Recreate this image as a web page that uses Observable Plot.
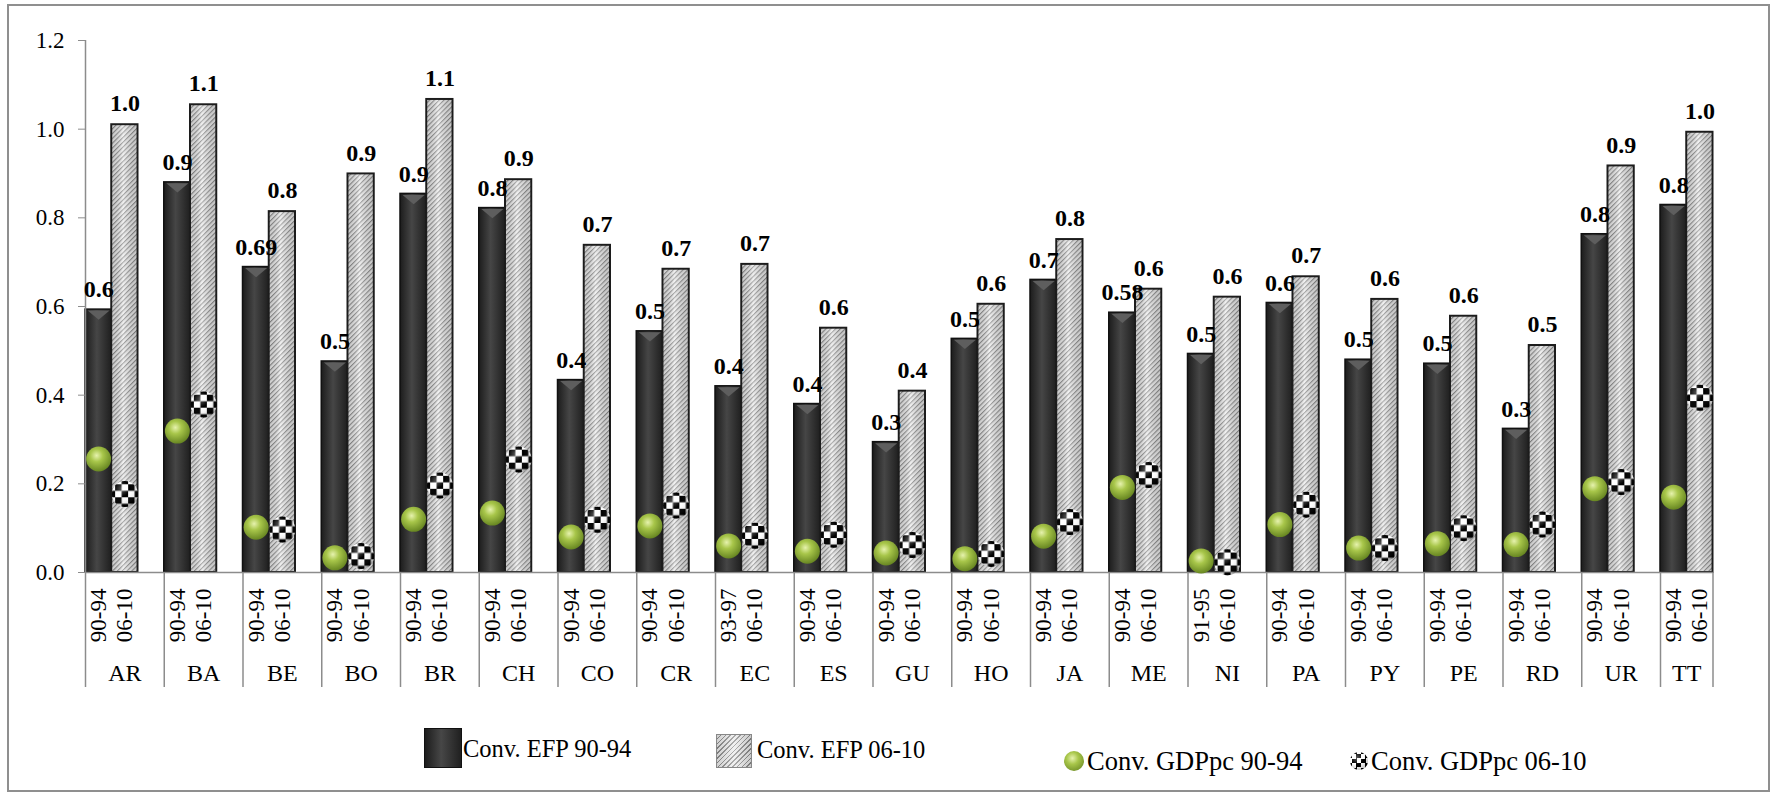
<!DOCTYPE html>
<html><head><meta charset="utf-8">
<script src="https://cdn.jsdelivr.net/npm/d3@7"></script>
<script src="https://cdn.jsdelivr.net/npm/@observablehq/plot@0.6"></script>
<style>
html,body{margin:0;padding:0;background:#fff;}
#wrap{position:relative;width:1773px;height:796px;overflow:hidden;font-family:"Liberation Serif","Times New Roman",serif;}
#chart{position:absolute;left:0;top:0;}
#border{position:absolute;left:7px;top:4px;width:1763px;height:788px;box-sizing:border-box;border:2px solid #8f8f8f;pointer-events:none;}
.lg{position:absolute;color:#000;white-space:nowrap;font-family:"Liberation Serif","Times New Roman",serif;}
.sw{position:absolute;box-sizing:border-box;}
</style></head><body>
<div id="wrap"><div id="chart"></div><div id="legend"></div><div id="border"></div></div>
<script>
// ---------- data ----------
const countries = ["AR","BA","BE","BO","BR","CH","CO","CR","EC","ES","GU","HO","JA","ME","NI","PA","PY","PE","RD","UR","TT"];
const periodsEarly = ["90-94","90-94","90-94","90-94","90-94","90-94","90-94","90-94","93-97","90-94","90-94","90-94","90-94","90-94","91-95","90-94","90-94","90-94","90-94","90-94","90-94"];
const periodsLate = ["06-10","06-10","06-10","06-10","06-10","06-10","06-10","06-10","06-10","06-10","06-10","06-10","06-10","06-10","06-10","06-10","06-10","06-10","06-10","06-10","06-10"];
const efp9094 = [0.593,0.88,0.689,0.476,0.854,0.822,0.434,0.544,0.42,0.38,0.294,0.527,0.66,0.586,0.493,0.608,0.48,0.471,0.324,0.763,0.829];
const efp0610 = [1.01,1.055,0.814,0.899,1.067,0.886,0.738,0.684,0.695,0.551,0.409,0.605,0.751,0.639,0.621,0.667,0.616,0.578,0.512,0.917,0.993];
const labels9094 = ["0.6","0.9","0.69","0.5","0.9","0.8","0.4","0.5","0.4","0.4","0.3","0.5","0.7","0.58","0.5","0.6","0.5","0.5","0.3","0.8","0.8"];
const labels0610 = ["1.0","1.1","0.8","0.9","1.1","0.9","0.7","0.7","0.7","0.6","0.4","0.6","0.8","0.6","0.6","0.7","0.6","0.6","0.5","0.9","1.0"];
const gdp9094 = [0.256,0.319,0.102,0.033,0.12,0.134,0.08,0.105,0.06,0.048,0.044,0.031,0.082,0.192,0.026,0.108,0.055,0.065,0.063,0.189,0.17];
const gdp0610 = [0.177,0.379,0.097,0.037,0.196,0.255,0.119,0.151,0.083,0.085,0.062,0.042,0.114,0.22,0.023,0.153,0.055,0.1,0.108,0.204,0.394];
const yTicks = [0,0.2,0.4,0.6,0.8,1.0,1.2];
const legendNames = ["Conv. EFP 90-94","Conv. EFP 06-10","Conv. GDPpc 90-94","Conv. GDPpc 06-10"];

// ---------- build table ----------
const n = countries.length;
const slotCount = 3*n - 1; // each country: early bar, late bar, gap (no gap after last)
const rows = countries.map((c,i)=>({country:c, slot:3*i, e1:efp9094[i], e2:efp0610[i], l1:labels9094[i], l2:labels0610[i], g1:gdp9094[i], g2:gdp0610[i], p1:periodsEarly[i], p2:periodsLate[i]}));
const bounds = countries.map((c,i)=>3*i).concat([slotCount]);
const centers = countries.map((c,i)=>({country:c, x:(3*i + Math.min(3*i+3, slotCount))/2}));

const bevel = {draw(ctx, size){ const w = Math.sqrt(size/Math.PI)*2; ctx.moveTo(-w/2,0); ctx.lineTo(w/2,0); ctx.lineTo(0,w*0.42); ctx.closePath(); }};
const grey = "#8c8c8c";
const font = "Liberation Serif";

const svg = Plot.plot({
  width: 1773, height: 700,
  marginLeft: 85, marginRight: 60.5, marginTop: 40, marginBottom: 128,
  style: {fontFamily: "'Liberation Serif', serif", background: "transparent", color: "#000"},
  x: {domain: [0, slotCount], axis: null},
  y: {domain: [0, 1.2]},
  marks: [
    Plot.rect(rows, {x1: d=>d.slot, x2: d=>d.slot+1, y1: 0, y2: "e1", fill: "url(#darkGrad)", stroke: "#111", strokeWidth: 1.5}),
    Plot.dot(rows, {x: d=>d.slot+0.5, y: "e1", r: 11, symbol: bevel, fill: "#5e5e5e", dy: 1}),
    Plot.rect(rows, {x1: d=>d.slot+1, x2: d=>d.slot+2, y1: 0, y2: "e2", fill: "url(#hatch)", stroke: "#1c1c1c", strokeWidth: 2}),
    Plot.rect(rows, {x1: d=>d.slot+1, x2: d=>d.slot+2, y1: 0, y2: "e2", fill: "url(#lightShade)", inset: 1}),
    Plot.ruleY([0], {stroke: grey, strokeWidth: 1.5}),
    Plot.ruleX([0], {y1: 0, y2: 1.2, stroke: grey, strokeWidth: 1.5}),
    Plot.ruleX(bounds, {x: d=>d, y1: 0, y2: 0, insetBottom: -115, stroke: grey, strokeWidth: 1.5}),
    Plot.axisY({ticks: yTicks, tickFormat: d3.format(".1f"), tickSize: 7, tickPadding: 14, fontSize: 23, fontFamily: font, stroke: grey, fill: "#000", label: null}),
    Plot.text(rows, {x: d=>d.slot+0.5, y: 0, text: "p1", rotate: -90, textAnchor: "end", dy: 16, fontSize: 23, fontFamily: font, fill: "#000"}),
    Plot.text(rows, {x: d=>d.slot+1.5, y: 0, text: "p2", rotate: -90, textAnchor: "end", dy: 16, fontSize: 23, fontFamily: font, fill: "#000"}),
    Plot.text(centers, {x: "x", y: 0, text: "country", dy: 101, fontSize: 24, fontFamily: font, fill: "#000"}),
    Plot.dot(rows, {x: d=>d.slot+0.5, y: "g1", r: 12.5, fill: "url(#greenBall)"}),
    Plot.dot(rows, {x: d=>d.slot+1.5, y: "g2", r: 13, fill: "url(#checker)"}),
    Plot.dot(rows, {x: d=>d.slot+1.5, y: "g2", r: 13, fill: "url(#shine)"}),
    Plot.text(rows, {x: d=>d.slot+0.5, y: "e1", text: "l1", dy: -20, fontSize: 24, fontFamily: font, fontWeight: "bold", fill: "#000"}),
    Plot.text(rows, {x: d=>d.slot+1.5, y: "e2", text: "l2", dy: -21, fontSize: 24, fontFamily: font, fontWeight: "bold", fill: "#000"})
  ]
});

d3.select(svg).insert("defs", ":first-child").html(`
<linearGradient id="darkGrad" x1="0" x2="1" y1="0" y2="0">
  <stop offset="0" stop-color="#1c1c1c"/><stop offset="0.45" stop-color="#464646"/><stop offset="1" stop-color="#1f1f1f"/>
</linearGradient>
<pattern id="hatch" patternUnits="userSpaceOnUse" width="3.4" height="3.4" patternTransform="rotate(45)">
  <rect width="3.4" height="3.4" fill="#ececec"/><rect width="1.1" height="3.4" fill="#8a8a8a"/>
</pattern>
<linearGradient id="lightShade" x1="0" x2="1" y1="0" y2="0">
  <stop offset="0" stop-color="#000" stop-opacity="0.12"/><stop offset="0.45" stop-color="#fff" stop-opacity="0.3"/><stop offset="1" stop-color="#000" stop-opacity="0.15"/>
</linearGradient>
<radialGradient id="greenBall" cx="0.42" cy="0.36" r="0.72">
  <stop offset="0" stop-color="#e6f2ad"/><stop offset="0.35" stop-color="#a8c64a"/><stop offset="1" stop-color="#5b7a1a"/>
</radialGradient>
<pattern id="checker" patternUnits="objectBoundingBox" patternContentUnits="objectBoundingBox" width="0.5" height="0.5" x="0.125" y="0.125">
  <rect width="0.5" height="0.5" fill="#fff"/><rect x="0.25" y="0.25" width="0.25" height="0.25" fill="#000"/><rect width="0.25" height="0.25" fill="#000"/>
</pattern>
<radialGradient id="shine" cx="0.38" cy="0.3" r="0.75">
  <stop offset="0" stop-color="#fff" stop-opacity="0.35"/><stop offset="0.4" stop-color="#fff" stop-opacity="0"/><stop offset="0.85" stop-color="#000" stop-opacity="0.15"/><stop offset="1" stop-color="#000" stop-opacity="0.45"/>
</radialGradient>`);

document.getElementById("chart").appendChild(svg);

// ---------- legend (HTML, below the plot area) ----------
const swatchStyles = [
  {left:424, top:728, w:38, h:40, css:"background:linear-gradient(90deg,#1c1c1c,#474747 45%,#202020);border:1px solid #111;"},
  {left:716, top:734, w:36, h:34, css:"background:linear-gradient(90deg,rgba(0,0,0,.12),rgba(255,255,255,.3),rgba(0,0,0,.15)),repeating-linear-gradient(135deg,#ececec 0 2.3px,#8a8a8a 2.3px 3.4px);border:1px solid #888;"},
  {left:1064, top:751, w:20, h:20, css:"border-radius:50%;background:radial-gradient(circle at 42% 36%,#e6f2ad,#a8c64a 35%,#5b7a1a);"},
  {left:1350, top:752, w:18, h:18, css:"border-radius:50%;background:radial-gradient(circle at 38% 32%,rgba(255,255,255,.35),rgba(255,255,255,0) 40%,rgba(0,0,0,.4)),conic-gradient(#000 25%,#fff 0 50%,#000 0 75%,#fff 0) 2px 2px/9px 9px;"}
];
const textPos = [{left:463, cy:749, fs:24.5},{left:757, cy:750, fs:24.5},{left:1087, cy:761, fs:26.5},{left:1371, cy:761, fs:26.5}];
const lg = document.getElementById("legend");
legendNames.forEach((name,i)=>{
  const s = swatchStyles[i];
  const sw = document.createElement("div");
  sw.className = "sw";
  sw.style.cssText = `left:${s.left}px;top:${s.top}px;width:${s.w}px;height:${s.h}px;` + s.css;
  lg.appendChild(sw);
  const t = document.createElement("div");
  t.className = "lg";
  const p = textPos[i];
  t.style.cssText = `left:${p.left}px;top:${p.cy - p.fs/2}px;font-size:${p.fs}px;line-height:${p.fs}px;`;
  t.textContent = name;
  lg.appendChild(t);
});
</script></body></html>
